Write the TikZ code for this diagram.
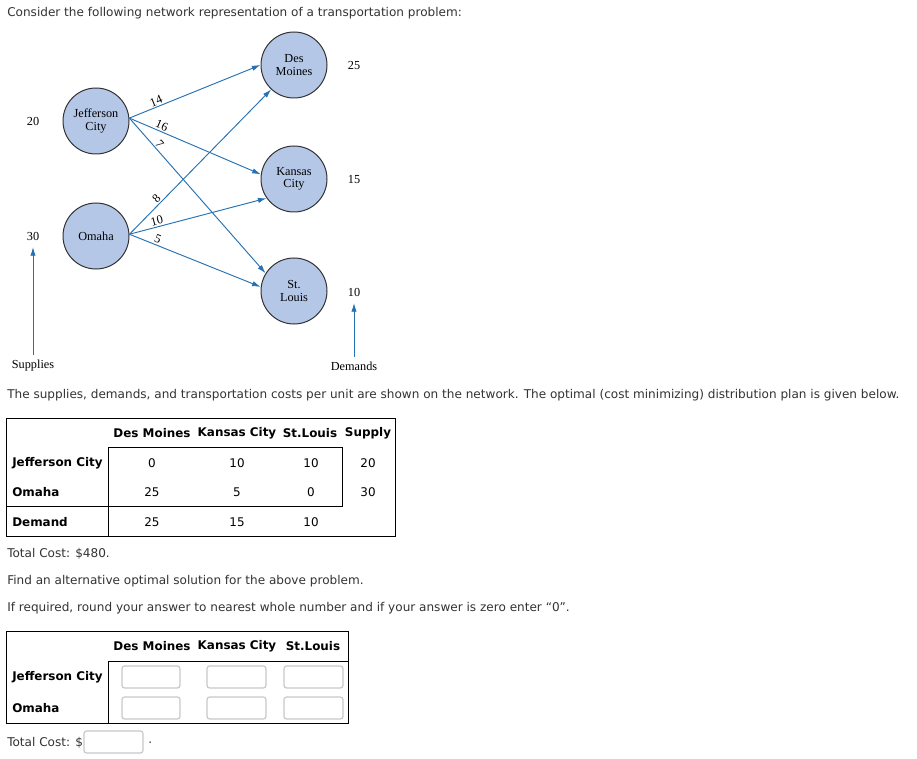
\documentclass[tikz,border=0pt]{standalone}
\usepackage{fontspec}
\setmainfont{Liberation Serif}
\newfontfamily\web{DejaVu Sans}
\usetikzlibrary{arrows.meta}
\definecolor{nodefill}{HTML}{B4C7E7}
\definecolor{arrowblue}{HTML}{2472B3}
\definecolor{bodytext}{HTML}{333333}
\definecolor{boxgray}{HTML}{C8C8C8}
\begin{document}
\begin{tikzpicture}[x=0.75pt,y=-0.75pt,
 city/.style={circle, draw=black!80, fill=nodefill, line width=0.75pt, minimum size=49.5pt, inner sep=0pt, align=center, font=\fontsize{9.2}{9.2}\selectfont},
 num/.style={font=\fontsize{9.2}{10}\selectfont, inner sep=1pt},
 flow/.style={draw=arrowblue, line width=0.7pt, -{Latex[length=6.5pt,width=4pt]}},
 cost/.style={font=\fontsize{9.2}{10}\selectfont, sloped, above, inner sep=1pt},
 wtext/.style={font=\fontsize{9.05}{10}\web, text=bodytext, anchor=west, inner sep=0pt},
 hdr/.style={font=\fontsize{8.95}{10}\web\bfseries, inner sep=0pt},
 rowlab/.style={font=\fontsize{8.95}{10}\web\bfseries, inner sep=0pt, anchor=west},
 cell/.style={font=\fontsize{8.95}{10}\web, inner sep=0pt},
 tline/.style={draw=black, line width=0.75pt},
 inbox/.style={draw=boxgray, rounded corners=2pt, line width=0.9pt, fill=white}
]
\useasboundingbox[fill=white] (0,0) rectangle (917,759);

% --- intro text
\node[wtext] (intro) at (7,13) {Consider the following network representation of a transportation problem:};

% --- network
\node[city] (jc) at (96,121) {Jefferson\\City};
\node[city] (om) at (96,236) {Omaha};
\node[city] (dm) at (294,65) {Des\\Moines};
\node[city] (kc) at (294,179) {Kansas\\City};
\node[city] (sl) at (294,291) {St.\\Louis};

\node[num] (s20) at (33,121) {20};
\node[num] (s30) at (33,236) {30};
\node[num] (d25) at (354,66) {25};
\node[num] (d15) at (354,180) {15};
\node[num] (d10) at (354,292) {10};

\node[num] (supl) at (33,366) {Supplies};
\node[num] (deml) at (354,366) {Demands};
\draw[flow, shorten >=4pt, shorten <=2.6pt] (supl) -- (s30);
\draw[flow, shorten >=4pt, shorten <=2.6pt] (deml) -- (d10);

\draw[flow] (jc.5) -- node[cost,pos=0.22]{14} (dm.west);
\draw[flow] (jc.5) -- node[cost,pos=0.23]{16} (kc.172);
\draw[flow] (jc.5) -- node[cost,pos=0.19]{7} (sl.148);
\draw[flow] (om.3) -- node[cost,pos=0.22]{8} (dm.227);
\draw[flow] (om.3) -- node[cost,pos=0.21]{10} (kc.215);
\draw[flow] (om.3) -- node[cost,pos=0.2]{5} (sl.173);

% --- text
\node[wtext] (desc) at (7,395) {The supplies, demands, and transportation costs per unit are shown on the network. The optimal (cost minimizing) distribution plan is given below.};

% --- table 1
\draw[tline] (6,418) rectangle (395,536);
\draw[tline] (108,447) -- (342,447) -- (342,506) -- (6,506);
\draw[tline] (108,447) -- (108,536);
\node[hdr] (t1h1) at (152,433) {Des Moines};
\node[hdr] (t1h2) at (237,433) {Kansas City};
\node[hdr] (t1h3) at (310,433) {St.Louis};
\node[hdr] (t1h4) at (368,433) {Supply};
\node[rowlab] (t1r1) at (12,463) {Jefferson City};
\node[rowlab] (t1r2) at (12,492) {Omaha};
\node[rowlab] (t1r3) at (12,522) {Demand};
\node[cell] (c11) at (152,463) {0};
\node[cell] (c12) at (237,463) {10};
\node[cell] (c13) at (311,463) {10};
\node[cell] (c14) at (368,463) {20};
\node[cell] (c21) at (152,492) {25};
\node[cell] (c22) at (237,492) {5};
\node[cell] (c23) at (311,492) {0};
\node[cell] (c24) at (368,492) {30};
\node[cell] (c31) at (152,522) {25};
\node[cell] (c32) at (237,522) {15};
\node[cell] (c33) at (311,522) {10};

\node[wtext] (tc) at (7,554) {Total Cost: \$480.};
\node[wtext] (find) at (7,581) {Find an alternative optimal solution for the above problem.};
\node[wtext] (req) at (7,608) {If required, round your answer to nearest whole number and if your answer is zero enter “0”.};

% --- table 2
\draw[tline] (6,631) rectangle (348,723);
\draw[tline] (108,723) -- (108,661) -- (348,661);
\node[hdr] (t2h1) at (152,646) {Des Moines};
\node[hdr] (t2h2) at (237,646) {Kansas City};
\node[hdr] (t2h3) at (313,646) {St.Louis};
\node[rowlab] (t2r1) at (12,677) {Jefferson City};
\node[rowlab] (t2r2) at (12,708) {Omaha};
\draw[inbox] (122,666) rectangle (180,688);
\draw[inbox] (207,666) rectangle (266,688);
\draw[inbox] (284,666) rectangle (343,688);
\draw[inbox] (122,697) rectangle (180,719);
\draw[inbox] (207,697) rectangle (266,719);
\draw[inbox] (284,697) rectangle (343,719);

\node[wtext] (tc2) at (7,743) {Total Cost: \$};
\draw[inbox] (84,731) rectangle (143,753);
\node[wtext] (dot) at (148,743) {.};
\end{tikzpicture}
\end{document}
